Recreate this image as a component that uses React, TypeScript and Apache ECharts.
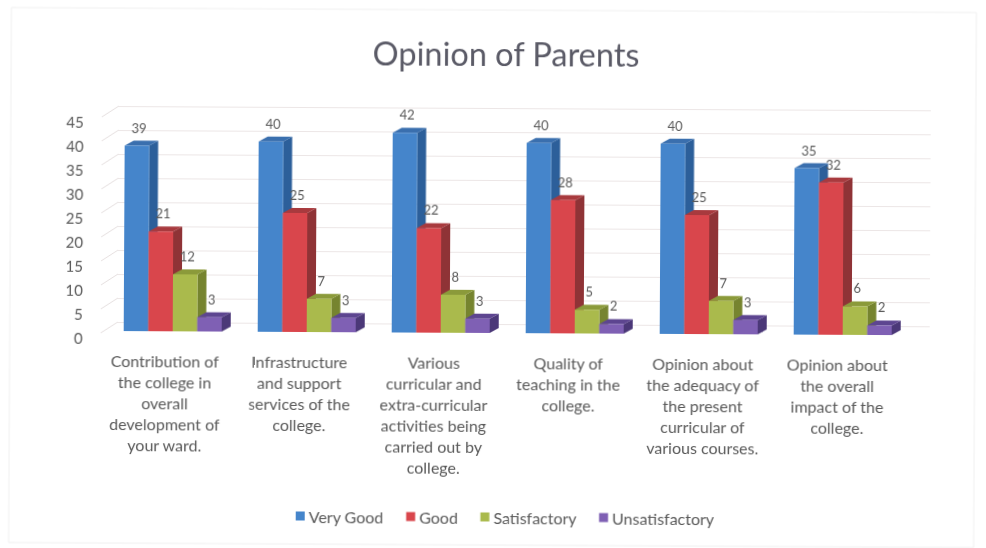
import React, { useEffect, useRef } from "react";
import * as echarts from "echarts";

const categories = [
  "Contribution of\nthe college in\noverall\ndevelopment of\nyour ward.",
  "Infrastructure\nand support\nservices of the\ncollege.",
  "Various\ncurricular and\nextra-curricular\nactivities being\ncarried out by\ncollege.",
  "Quality of\nteaching in the\ncollege.",
  "Opinion about\nthe adequacy of\nthe present\ncurricular of\nvarious courses.",
  "Opinion about\nthe overall\nimpact of the\ncollege.",
];
const veryGood = [39, 40, 42, 40, 40, 35];
const good = [21, 25, 22, 28, 25, 32];
const satisfactory = [12, 7, 8, 5, 7, 6];
const unsatisfactory = [3, 3, 3, 2, 3, 2];
const wallTicks = [0, 5, 10, 15, 20, 25, 30, 35, 40, 45];

const seriesDefs = [
  { name: "Very Good", values: veryGood, front: "#4585cb", side: "#2c5f9a", top: "#3a6fae" },
  { name: "Good", values: good, front: "#d9464c", side: "#8f3336", top: "#a83a3e" },
  { name: "Satisfactory", values: satisfactory, front: "#aaba4c", side: "#76842f", top: "#8b9a3a" },
  { name: "Unsatisfactory", values: unsatisfactory, front: "#7f60b4", side: "#4b3878", top: "#5d4590" },
];

const BAR_W = 24.5;
const DX = 9;
const DY = 5;
const TEXT = "#595959";
const FONT = "Lato, 'Open Sans', sans-serif";

function barRenderer(idx: number, def: (typeof seriesDefs)[number]) {
  return (_params: any, api: any) => {
    const v = api.value(1);
    const [cx, yTop] = api.coord([api.value(0), v]);
    const [, y0] = api.coord([api.value(0), 0]);
    const x0 = cx - 2 * BAR_W + idx * BAR_W;
    const x1 = x0 + BAR_W;
    return {
      type: "group",
      children: [
        {
          type: "polygon",
          shape: { points: [[x1, yTop], [x1 + DX, yTop - DY], [x1 + DX, y0 - DY], [x1, y0]] },
          style: { fill: def.side },
        },
        {
          type: "polygon",
          shape: { points: [[x0, yTop], [x0 + DX, yTop - DY], [x1 + DX, yTop - DY], [x1, yTop]] },
          style: { fill: def.top },
        },
        {
          type: "rect",
          shape: { x: x0, y: yTop, width: BAR_W, height: y0 - yTop },
          style: { fill: def.front },
        },
        {
          type: "text",
          x: x0 + BAR_W / 2 + 2,
          y: yTop - 18,
          style: {
            text: String(v),
            fill: TEXT,
            font: `13px ${FONT}`,
            align: "center",
            verticalAlign: "middle",
          },
        },
      ],
    };
  };
}

function wallRenderer(_params: any, api: any) {
  const [x, y] = api.coord([0, api.value(0)]);
  return {
    type: "line",
    shape: { x1: x, y1: y, x2: x - 17, y2: y + 11 },
    style: { stroke: "#e6e0e0", lineWidth: 1 },
    silent: true,
  };
}

export default function App() {
  const ref = useRef<HTMLDivElement>(null);
  useEffect(() => {
    const chart = echarts.init(ref.current!, undefined, { renderer: "svg" });
    chart.setOption({
      animation: false,
      backgroundColor: "#ffffff",
      title: {
        text: "Opinion of Parents",
        left: 500,
        top: 32,
        textAlign: "center",
        textStyle: { fontFamily: FONT, fontSize: 32.5, fontWeight: "normal", color: "#5a5a66" },
      },
      legend: {
        left: 292,
        top: 504,
        itemWidth: 9,
        itemHeight: 9,
        itemGap: 22.5,
        icon: "rect",
        textStyle: { fontFamily: FONT, fontSize: 16, color: TEXT, padding: [0, 0, 0, -1] },
        data: seriesDefs.map((d) => ({ name: d.name, itemStyle: { color: d.front } })),
      },
      graphic: [
        {
          type: "rect",
          silent: true,
          z: 0,
          shape: { x: 10, y: 10, width: 965, height: 535 },
          style: { fill: "none", stroke: "#f0f0f0", lineWidth: 1 },
        },
      ],
      grid: [
        { left: 98, right: 81, top: 124, height: 216 },
        { left: 118, right: 56, top: 108, height: 216 },
        { left: 106, right: 76, top: 119, height: 214 },
      ],
      xAxis: [
        {
          gridIndex: 0,
          type: "category",
          data: categories,
          axisLine: { show: false },
          axisTick: { show: false },
          axisLabel: {
            interval: 0,
            margin: 12,
            fontFamily: FONT,
            fontSize: 16,
            lineHeight: 21,
            color: TEXT,
          },
        },
        { gridIndex: 1, type: "value", min: 0, max: 1, show: false },
        { gridIndex: 2, type: "category", data: categories, show: false },
      ],
      yAxis: [
        {
          gridIndex: 0,
          type: "value",
          min: 0,
          max: 45,
          interval: 5,
          axisLine: { show: false },
          axisTick: { show: false },
          splitLine: { show: false },
          axisLabel: { margin: 15, fontFamily: FONT, fontSize: 15, color: TEXT },
        },
        {
          gridIndex: 1,
          type: "value",
          min: 0,
          max: 45,
          interval: 5,
          axisLine: { show: false },
          axisTick: { show: false },
          axisLabel: { show: false },
          splitLine: { show: true, lineStyle: { color: "#ece6e6", width: 1 } },
        },
        { gridIndex: 2, type: "value", min: 0, max: 45, interval: 5, show: false },
      ],
      series: [
        {
          type: "custom",
          silent: true,
          xAxisIndex: 1,
          yAxisIndex: 1,
          encode: { y: 0 },
          data: wallTicks.map((t) => [t]),
          renderItem: wallRenderer,
          z: 1,
        },
        ...seriesDefs.map((d, i) => ({
          type: "custom",
          name: d.name,
          xAxisIndex: 2,
          yAxisIndex: 2,
          encode: { x: 0, y: 1 },
          itemStyle: { color: d.front },
          data: d.values.map((v, c) => [c, v]),
          renderItem: barRenderer(i, d),
          z: 2 + i,
        })),
      ],
    });
    return () => chart.dispose();
  }, []);
  return (
    <div
      ref={ref}
      style={{
        position: "fixed",
        left: 0,
        top: 0,
        width: 986,
        height: 548,
        transform: "rotate(0.3deg)",
        transformOrigin: "493px 274px",
      }}
    />
  );
}
